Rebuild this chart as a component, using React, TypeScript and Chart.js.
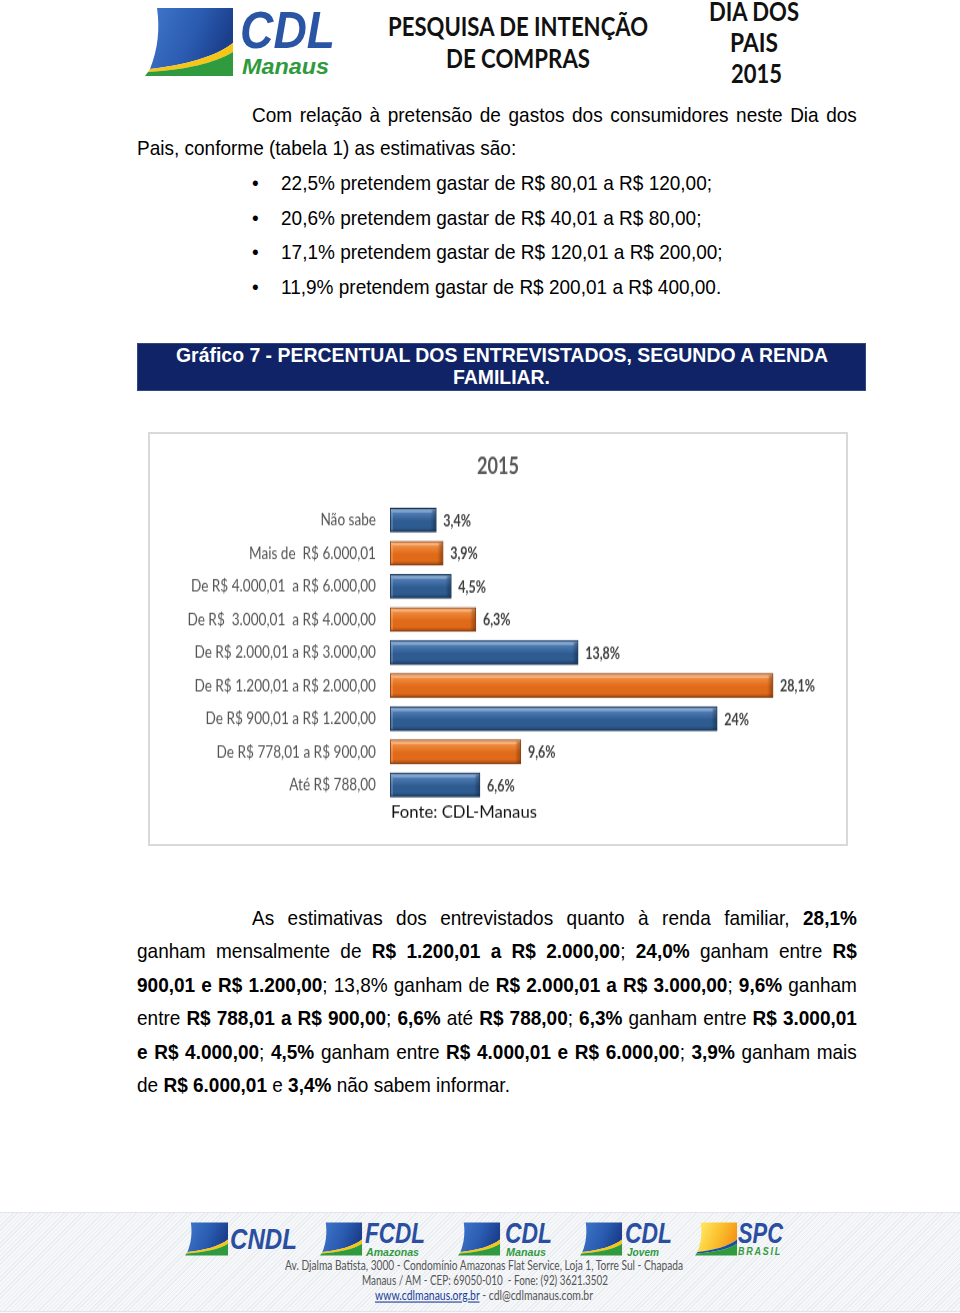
import React, { useEffect, useLayoutEffect, useRef } from "react";
import { Chart, registerables } from "chart.js";

Chart.register(...registerables);

// ---------- chart data ----------
const categories = [
  "Não sabe",
  "Mais de  R$ 6.000,01",
  "De R$ 4.000,01  a R$ 6.000,00",
  "De R$  3.000,01  a R$ 4.000,00",
  "De R$ 2.000,01 a R$ 3.000,00",
  "De R$ 1.200,01 a R$ 2.000,00",
  "De R$ 900,01 a R$ 1.200,00",
  "De R$ 778,01 a R$ 900,00",
  "Até R$ 788,00",
];
const values = [3.4, 3.9, 4.5, 6.3, 13.8, 28.1, 24, 9.6, 6.6];
const valueLabels = ["3,4%", "3,9%", "4,5%", "6,3%", "13,8%", "28,1%", "24%", "9,6%", "6,6%"];
const barColorKeys = ["blue", "orange", "blue", "orange", "blue", "orange", "blue", "orange", "blue"];
const chartTitle = "2015";
const sourceNote = "Fonte: CDL-Manaus";

const PALETTE: Record<string, { top: string; hi: string; mid: string; low: string; edge: string }> = {
  blue: { top: "#86a9d3", hi: "#4f7cb3", mid: "#2e5b90", low: "#1c3c63", edge: "#16314f" },
  orange: { top: "#fbb987", hi: "#f08a3c", mid: "#e06a1a", low: "#9e4a12", edge: "#7d3a0d" },
};

const LATO = 'Lato, "Open Sans", sans-serif';
const SANS = '"Liberation Sans", Arial, sans-serif';

// canvas is drawn at 696x328 and shown stretched to 696x410 (the reference is vertically stretched)
const CW = 696;
const CH = 328;
const STRETCH = 410 / 328;

// ---------- page texts ----------
const introLines = [
  "Com relação à pretensão de gastos dos consumidores neste Dia dos",
  "Pais, conforme (tabela 1) as estimativas são:",
];
const bulletLines = [
  "22,5% pretendem gastar de R$ 80,01 a R$ 120,00;",
  "20,6% pretendem gastar de R$ 40,01 a R$ 80,00;",
  "17,1% pretendem gastar de R$ 120,01 a R$ 200,00;",
  "11,9% pretendem gastar de R$ 200,01 a R$ 400,00.",
];
const outroLines = [
  "As estimativas dos entrevistados quanto à renda familiar, **28,1%**",
  "ganham mensalmente de **R$ 1.200,01 a R$ 2.000,00**; **24,0%** ganham entre **R$**",
  "**900,01 e R$ 1.200,00**; 13,8% ganham de **R$ 2.000,01 a R$ 3.000,00**; **9,6%** ganham",
  "entre **R$ 788,01 a R$ 900,00**; **6,6%** até **R$ 788,00**; **6,3%** ganham entre **R$ 3.000,01**",
  "**e R$ 4.000,00**; **4,5%** ganham entre **R$ 4.000,01 e R$ 6.000,00**; **3,9%** ganham mais",
  "de **R$ 6.000,01** e **3,4%** não sabem informar.",
];

type Seg = { t: string; b: boolean };
function parseWords(s: string): Seg[][] {
  const words: Seg[][] = [];
  let bold = false;
  let cur: Seg[] = [];
  let i = 0;
  while (i < s.length) {
    if (s.startsWith("**", i)) {
      bold = !bold;
      i += 2;
      continue;
    }
    const ch = s[i];
    if (ch === " ") {
      if (cur.length) words.push(cur);
      cur = [];
    } else {
      const last = cur[cur.length - 1];
      if (last && last.b === bold) last.t += ch;
      else cur.push({ t: ch, b: bold });
    }
    i++;
  }
  if (cur.length) words.push(cur);
  return words;
}

function TextLine(props: { text: string; cy: number; left: number; right?: number; justify?: boolean; size?: number }) {
  const { text, cy, left, right = 857, justify = false, size = 19 } = props;
  const lh = 26;
  const words = parseWords(text);
  const renderWord = (w: Seg[], k: number) => (
    <span key={k} style={{ whiteSpace: "pre" }}>
      {w.map((s, j) => (
        <span key={j} style={{ fontWeight: s.b ? "bold" : "normal" }}>
          {s.t}
        </span>
      ))}
    </span>
  );
  const base: React.CSSProperties = {
    position: "absolute",
    left,
    top: cy - lh / 2,
    height: lh,
    lineHeight: lh + "px",
    fontFamily: SANS,
    fontSize: size,
    color: "#000",
    transform: "scaleY(1.1)",
    transformOrigin: "center",
    whiteSpace: "pre",
  };
  if (justify) {
    return (
      <div style={{ ...base, width: right - left, display: "flex", justifyContent: "space-between" }}>
        {words.map(renderWord)}
      </div>
    );
  }
  return (
    <div style={base}>
      {words.map((w, k) => (
        <React.Fragment key={k}>
          {k > 0 ? " " : ""}
          {renderWord(w, k)}
        </React.Fragment>
      ))}
    </div>
  );
}

// text that is squeezed/stretched horizontally to a target width
function Fit(props: {
  left?: number;
  cx?: number;
  cy: number;
  width: number;
  size: number;
  family?: string;
  weight?: any;
  italic?: boolean;
  color?: string;
  scaleY?: number;
  extra?: React.CSSProperties;
  children: React.ReactNode;
}) {
  const { left, cx, cy, width, size, family = SANS, weight = "normal", italic, color = "#000", scaleY = 1, extra } = props;
  const ref = useRef<HTMLSpanElement>(null);
  useLayoutEffect(() => {
    const el = ref.current!;
    el.style.transform = "none";
    const w = el.getBoundingClientRect().width;
    if (w > 0) el.style.transform = `scale(${width / w}, ${scaleY})`;
  }, [width, scaleY]);
  const x = left !== undefined ? left : (cx as number) - width / 2;
  return (
    <div
      style={{
        position: "absolute",
        left: x,
        top: cy - size,
        height: size * 2,
        lineHeight: size * 2 + "px",
        whiteSpace: "pre",
      }}
    >
      <span
        ref={ref}
        style={{
          display: "inline-block",
          transformOrigin: "left center",
          fontFamily: family,
          fontSize: size,
          fontWeight: weight,
          fontStyle: italic ? "italic" : "normal",
          color,
          ...extra,
        }}
      >
        {props.children}
      </span>
    </div>
  );
}

function Swoosh(props: { x: number; y: number; w: number; h: number; id: string; spc?: boolean }) {
  const { x, y, w, h, id, spc } = props;
  return (
    <svg
      width={w}
      height={h}
      viewBox="0 0 90 70"
      preserveAspectRatio="none"
      style={{ position: "absolute", left: x, top: y }}
    >
      <defs>
        <linearGradient id={id} x1="0" y1="0" x2="1" y2="0.3">
          {spc ? (
            <>
              <stop offset="0" stopColor="#fff06a" />
              <stop offset="0.6" stopColor="#fbc02d" />
              <stop offset="1" stopColor="#f39a1a" />
            </>
          ) : (
            <>
              <stop offset="0" stopColor="#3f77cc" />
              <stop offset="0.6" stopColor="#2a5bb0" />
              <stop offset="1" stopColor="#1b3f8c" />
            </>
          )}
        </linearGradient>
      </defs>
      <path d="M12,1 L88,1 L88,36 C70,50 40,58 5,62 C13,42 15,22 12,1 Z" fill={`url(#${id})`} />
      <path d="M5,62 C40,58 70,50 88,36 L88,45 C70,56 40,63 3,65 Z" fill={spc ? "#1d4fa0" : "#f5c518"} />
      <path d="M3,65 C40,63 70,56 88,45 L88,69 L0,69 Z" fill="#2f9a3e" />
    </svg>
  );
}

function fitText(ctx: CanvasRenderingContext2D, text: string, x: number, y: number, width: number) {
  const m = ctx.measureText(text).width;
  ctx.save();
  ctx.translate(x, y);
  ctx.scale(width / m, 1);
  ctx.fillText(text, 0, 0);
  ctx.restore();
}

const barPlugin = {
  id: "barDecor",
  afterDatasetsDraw(chart: any) {
    const ctx = chart.ctx as CanvasRenderingContext2D;
    const meta = chart.getDatasetMeta(0);
    ctx.save();
    meta.data.forEach((el: any, i: number) => {
      const h = el.height;
      const top = el.y - h / 2;
      const left = el.base;
      const right = el.x;
      ctx.fillStyle = "rgba(255,255,255,0.28)";
      ctx.fillRect(left + 3, top + 2, right - left - 7, 1.5);
      const g = ctx.createLinearGradient(right - 6, 0, right, 0);
      g.addColorStop(0, "rgba(0,0,0,0)");
      g.addColorStop(1, "rgba(0,0,0,0.35)");
      ctx.fillStyle = g;
      ctx.fillRect(right - 6, top + 1, 5, h - 2);
      ctx.fillStyle = "rgba(255,255,255,0.18)";
      ctx.fillRect(left + 1, top + 1, 2, h - 2);
      ctx.fillStyle = "#404040";
      ctx.font = `bold 12.5px ${LATO}`;
      ctx.textAlign = "left";
      ctx.textBaseline = "middle";
      ctx.fillText(valueLabels[i], right + 7, el.y + 0.8);
    });
    ctx.fillStyle = "#595959";
    ctx.font = `bold 18px ${LATO}`;
    ctx.textAlign = "left";
    ctx.textBaseline = "middle";
    fitText(ctx, chartTitle, 327, 26, 42);
    ctx.fillStyle = "#111";
    ctx.font = `14px ${LATO}`;
    fitText(ctx, sourceNote, chart.chartArea.left + 1, 302, 146);
    ctx.restore();
  },
};

function BarChart() {
  const ref = useRef<HTMLCanvasElement>(null);
  useEffect(() => {
    const half = 9.6;
    const fill = (c: any) => {
      const key = barColorKeys[c.dataIndex] || "blue";
      const p = PALETTE[key];
      const chart = c.chart;
      const y = chart.scales && chart.scales.y;
      if (c.type !== "data" || !y || !chart.chartArea) return p.mid;
      const cy = y.getPixelForValue(c.dataIndex);
      const g = chart.ctx.createLinearGradient(0, cy - half, 0, cy + half);
      g.addColorStop(0, p.top);
      g.addColorStop(0.2, p.hi);
      g.addColorStop(0.55, p.mid);
      g.addColorStop(0.82, p.mid);
      g.addColorStop(1, p.low);
      return g;
    };
    const chart = new Chart(ref.current!, {
      type: "bar",
      data: {
        labels: categories,
        datasets: [
          {
            data: values,
            backgroundColor: fill as any,
            borderColor: ((c: any) => PALETTE[barColorKeys[c.dataIndex] || "blue"].edge) as any,
            borderWidth: 1,
            borderSkipped: false,
            barThickness: half * 2,
          },
        ],
      },
      options: {
        indexAxis: "y",
        responsive: false,
        animation: false,
        layout: { padding: { top: 55.6, bottom: 34, left: 0, right: 47 } },
        plugins: {
          legend: { display: false },
          tooltip: { enabled: false },
          title: { display: false },
        },
        scales: {
          x: { display: false, min: 0, max: 30 },
          y: {
            grid: { display: false },
            border: { display: false },
            ticks: { padding: 6, color: "#545454", font: { family: LATO, size: 13.6 } },
            afterFit: (s: any) => {
              s.width = 240;
            },
          },
        },
      },
      plugins: [barPlugin],
    });
    return () => chart.destroy();
  }, []);
  return (
    <canvas
      ref={ref}
      width={CW}
      height={CH}
      style={{ position: "absolute", left: 150, top: 434, width: CW, height: CH * STRETCH }}
    />
  );
}

export default function App() {
  const head = { family: LATO, weight: "bold", size: 25, color: "#111", scaleY: 1.05 };
  const foot = { family: SANS, weight: "bold", italic: true, color: "#2a4fa0", size: 30 };
  const sub = { family: SANS, weight: "bold", italic: true, color: "#2f9a3e", size: 10 };
  const addr = { family: LATO, size: 12, color: "#555", scaleY: 1.1 };
  return (
    <div
      style={{
        position: "absolute",
        left: 0,
        top: 0,
        width: 960,
        height: 1313,
        background: "#fff",
        overflow: "hidden",
      }}
    >
      {/* header */}
      <Swoosh x={145} y={7} w={90} h={70} id="mainlogo" />
      <Fit left={240} cy={30} width={95} size={50} family={SANS} weight="bold" italic color="#2a55a5" scaleY={1.05}>
        CDL
      </Fit>
      <Fit left={242} cy={67} width={87} size={22} family={SANS} weight="bold" italic color="#2e9a3c">
        Manaus
      </Fit>
      <Fit {...head} cx={518} cy={25} width={260}>PESQUISA DE INTENÇÃO</Fit>
      <Fit {...head} cx={518} cy={57} width={144}>DE COMPRAS</Fit>
      <Fit {...head} cx={754} cy={10} width={90}>DIA DOS</Fit>
      <Fit {...head} cx={754} cy={41} width={48}>PAIS</Fit>
      <Fit {...head} cx={756} cy={72} width={51}>2015</Fit>

      {/* intro text */}
      <TextLine text={introLines[0]} cy={115} left={252} justify />
      <TextLine text={introLines[1]} cy={148} left={137} />
      {bulletLines.map((t, i) => (
        <React.Fragment key={i}>
          <TextLine text={"•"} cy={183 + i * 34.7} left={252} />
          <TextLine text={t} cy={183 + i * 34.7} left={281} />
        </React.Fragment>
      ))}

      {/* chart caption bar */}
      <div
        style={{
          position: "absolute",
          left: 137,
          top: 343,
          width: 729,
          height: 48,
          background: "#0f2366",
          boxSizing: "border-box",
          border: "1px solid #33477f",
        }}
      />
      <Fit cx={502} cy={356} width={652} size={19} weight="bold" color="#fff" scaleY={1.08}>
        Gráfico 7 - PERCENTUAL DOS ENTREVISTADOS, SEGUNDO A RENDA
      </Fit>
      <Fit cx={501} cy={378} width={97} size={19} weight="bold" color="#fff" scaleY={1.08}>
        FAMILIAR.
      </Fit>

      {/* chart frame */}
      <div
        style={{
          position: "absolute",
          left: 148,
          top: 432,
          width: 700,
          height: 414,
          boxSizing: "border-box",
          border: "2px solid #d9d9d9",
          background: "#fff",
        }}
      />
      <BarChart />

      {/* outro text */}
      {outroLines.map((t, i) => (
        <TextLine
          key={i}
          text={t}
          cy={918 + i * 33.4}
          left={i === 0 ? 252 : 137}
          justify={i < outroLines.length - 1}
        />
      ))}

      {/* footer */}
      <div
        style={{
          position: "absolute",
          left: 0,
          top: 1212,
          width: 960,
          height: 98,
          borderTop: "1px solid #e2e4ea",
          borderBottom: "1px solid #e2e4ea",
          background:
            "repeating-linear-gradient(135deg, #e9ecf1 0px, #e9ecf1 1px, #f6f7f9 1px, #f6f7f9 3px)",
        }}
      />
      <Swoosh x={185} y={1222} w={44} h={34} id="f1" />
      <Fit {...foot} left={230} cy={1239} width={67}>CNDL</Fit>
      <Swoosh x={320} y={1222} w={43} h={34} id="f2" />
      <Fit {...foot} left={365} cy={1233} width={60}>FCDL</Fit>
      <Fit {...sub} left={366} cy={1251} width={53}>Amazonas</Fit>
      <Swoosh x={458} y={1222} w={43} h={34} id="f3" />
      <Fit {...foot} left={505} cy={1233} width={47}>CDL</Fit>
      <Fit {...sub} left={506} cy={1251} width={40}>Manaus</Fit>
      <Swoosh x={580} y={1222} w={43} h={34} id="f4" />
      <Fit {...foot} left={625} cy={1233} width={47}>CDL</Fit>
      <Fit {...sub} left={627} cy={1251} width={32}>Jovem</Fit>
      <Swoosh x={695} y={1222} w={43} h={34} id="f5" spc />
      <Fit {...foot} left={738} cy={1233} width={45}>SPC</Fit>
      <Fit {...sub} left={738} cy={1250} width={44} extra={{ letterSpacing: 2 }}>BRASIL</Fit>
      <Fit {...addr} cx={484} cy={1265} width={398}>
        Av. Djalma Batista, 3000 - Condomínio Amazonas Flat Service, Loja 1, Torre Sul - Chapada
      </Fit>
      <Fit {...addr} cx={485} cy={1280} width={246}>Manaus / AM - CEP: 69050-010  - Fone: (92) 3621.3502</Fit>
      <Fit {...addr} cx={484} cy={1295} width={218}>
        <span style={{ color: "#1a3d99", textDecoration: "underline" }}>www.cdlmanaus.org.br</span>
        {" - cdl@cdlmanaus.com.br"}
      </Fit>
    </div>
  );
}
